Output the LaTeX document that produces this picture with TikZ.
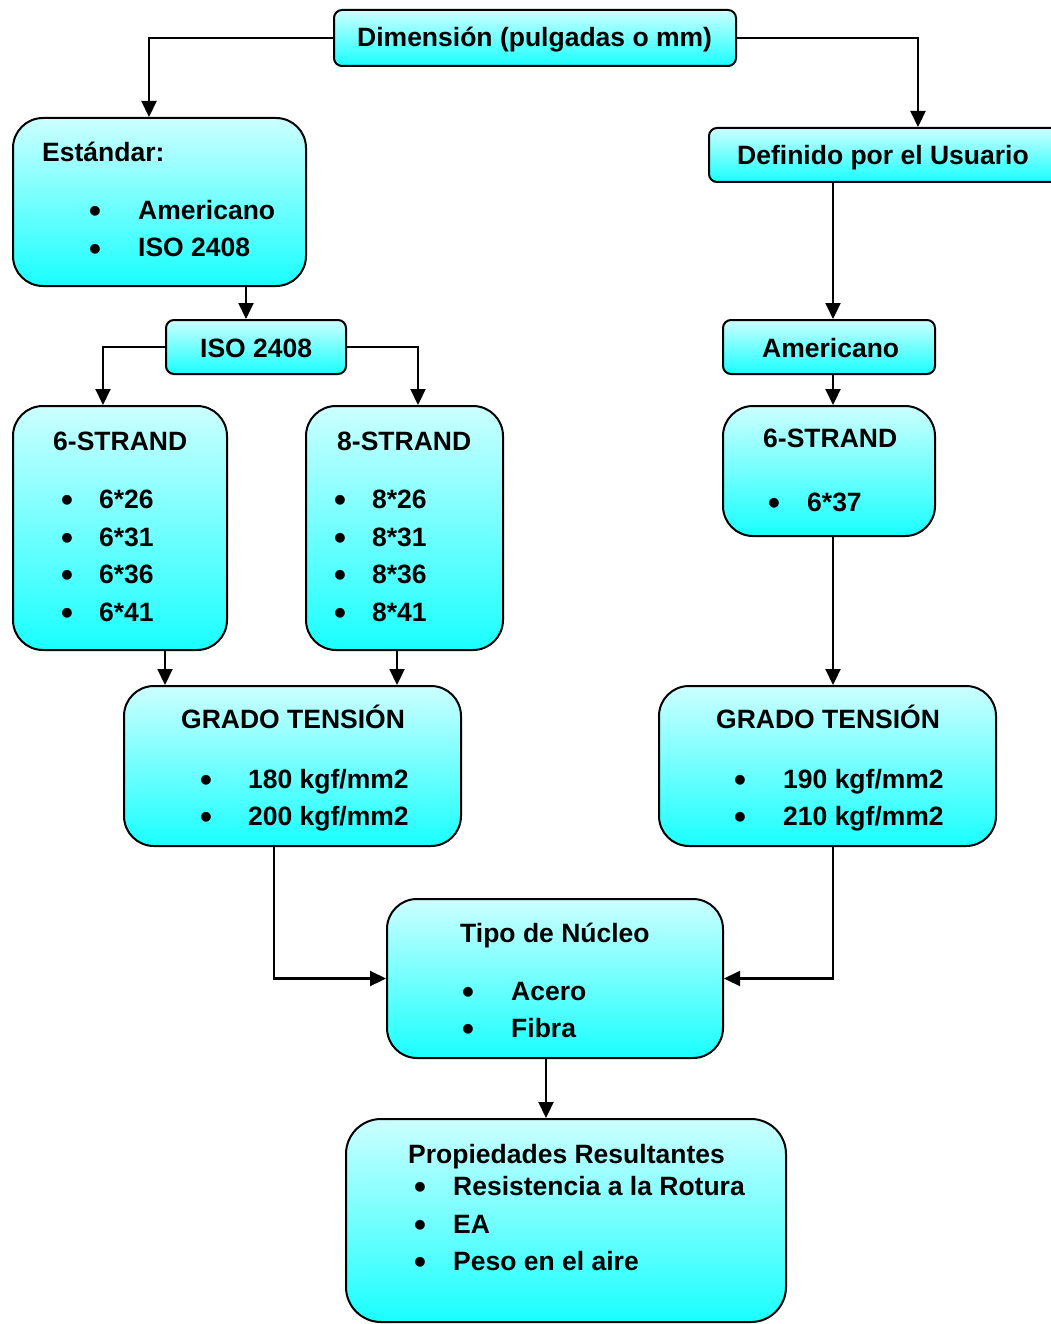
\documentclass[tikz,border=0pt]{standalone}
\usepackage{fontspec}
\setmainfont{Liberation Sans}
\usetikzlibrary{arrows.meta}
\definecolor{boxtop}{RGB}{204,255,255}
\definecolor{boxbot}{RGB}{25,255,255}
\tikzset{
  box/.style={draw=black, line width=2pt, top color=boxtop, bottom color=boxbot,
    inner sep=0pt, rounded corners=#1},
  box/.default=30pt,
  txt/.style={anchor=base west, inner sep=0pt, text=black,
    font=\bfseries\fontsize{26.5}{30}\selectfont},
  bul/.style={anchor=base, inner sep=0pt, text=black, yshift=-3pt,
    font=\bfseries\fontsize{34}{36}\selectfont},
  conn/.style={draw=black, line width=2.2pt, -{Triangle[length=16pt,width=15pt]}},
}
\begin{document}
\begin{tikzpicture}[x=1pt, y=-1pt]
\useasboundingbox (0,0) rectangle (1050,1324);

% boxes
\node[box=8pt, minimum width=402pt, minimum height=56pt] (dim) at (535,38) {};
\node[box, minimum width=293pt, minimum height=168pt] (est) at (159.5,202) {};
\node[box=8pt, minimum width=351pt, minimum height=54pt] (def) at (884.5,155) {};
\node[box=8pt, minimum width=180pt, minimum height=54pt] (iso) at (256,347) {};
\node[box=8pt, minimum width=212pt, minimum height=54pt] (ame) at (829,347) {};
\node[box, minimum width=214pt, minimum height=244pt] (s6l) at (120,528) {};
\node[box, minimum width=197pt, minimum height=244pt] (s8) at (404.5,528) {};
\node[box, minimum width=212pt, minimum height=130pt] (s6r) at (829,471) {};
\node[box, minimum width=337pt, minimum height=160pt] (gl) at (292.5,766) {};
\node[box, minimum width=337pt, minimum height=160pt] (gr) at (827.5,766) {};
\node[box, minimum width=336pt, minimum height=159pt] (tipo) at (555,978.5) {};
\node[box=35pt, minimum width=440pt, minimum height=203pt] (prop) at (566,1220.5) {};

% texts
\node[txt] (tdim) at (357,47) {Dimensión (pulgadas o mm)};

\node[txt] (test) at (42,162) {Estándar:};
\node[bul] (best1) at (95,220) {•};
\node[txt] (test1) at (138,220) {Americano};
\node[bul] (best2) at (95,257) {•};
\node[txt] (test2) at (138,257) {ISO 2408};

\node[txt] (tdef) at (737,165) {Definido por el Usuario};
\node[txt] (tiso) at (200,357) {ISO 2408};
\node[txt] (tame) at (762,357) {Americano};

\node[txt] (ts6l) at (53,450) {6-STRAND};
\foreach \v/\yy in {26/508,31/546,36/583,41/621}{
  \node[bul] (bs6l\v) at (67,\yy) {•};
  \node[txt] (ts6l\v) at (99,\yy) {6*\v};
}
\node[txt] (ts8) at (337,450) {8-STRAND};
\foreach \v/\yy in {26/508,31/546,36/583,41/621}{
  \node[bul] (bs8\v) at (340,\yy) {•};
  \node[txt] (ts8\v) at (372,\yy) {8*\v};
}
\node[txt] (ts6r) at (763,447) {6-STRAND};
\node[bul] (bs6r) at (774,511) {•};
\node[txt] (ts6r1) at (807,511) {6*37};

\node[txt] (tgl) at (181,728) {GRADO TENSIÓN};
\node[bul] (bgl1) at (206,788) {•};
\node[txt] (tgl1) at (248,788) {180 kgf/mm2};
\node[bul] (bgl2) at (206,825) {•};
\node[txt] (tgl2) at (248,825) {200 kgf/mm2};

\node[txt] (tgr) at (716,728) {GRADO TENSIÓN};
\node[bul] (bgr1) at (740,788) {•};
\node[txt] (tgr1) at (783,788) {190 kgf/mm2};
\node[bul] (bgr2) at (740,825) {•};
\node[txt] (tgr2) at (783,825) {210 kgf/mm2};

\node[txt] (ttipo) at (460,942) {Tipo de Núcleo};
\node[bul] (btipo1) at (468,1000) {•};
\node[txt] (ttipo1) at (511,1000) {Acero};
\node[bul] (btipo2) at (468,1037) {•};
\node[txt] (ttipo2) at (511,1037) {Fibra};

\node[txt] (tprop) at (408,1163) {Propiedades Resultantes};
\node[bul] (bprop1) at (420,1195) {•};
\node[txt] (tprop1) at (453,1195) {Resistencia a la Rotura};
\node[bul] (bprop2) at (420,1233) {•};
\node[txt] (tprop2) at (453,1233) {EA};
\node[bul] (bprop3) at (420,1270) {•};
\node[txt] (tprop3) at (453,1270) {Peso en el aire};

% connectors
\draw[conn] (dim.west) -| ([xshift=137pt]est.north west);
\draw[conn] (dim.east) -| ([xshift=210pt]def.north west);
\draw[conn] ([xshift=234pt]est.south west) -- ([xshift=81pt]iso.north west);
\draw[conn] (iso.west) -| ([xshift=91pt]s6l.north west);
\draw[conn] (iso.east) -| ([xshift=113pt]s8.north west);
\draw[conn] ([xshift=125pt]def.south west) -- ([xshift=111pt]ame.north west);
\draw[conn] ([xshift=111pt]ame.south west) -- ([xshift=111pt]s6r.north west);
\draw[conn] ([xshift=111pt]s6r.south west) -- ([xshift=175pt]gr.north west);
\draw[conn] ([xshift=153pt]s6l.south west) -- ([xshift=42pt]gl.north west);
\draw[conn] ([xshift=92pt]s8.south west) -- ([xshift=274pt]gl.north west);
\draw[conn] ([xshift=151pt]gl.south west) |- (tipo.west);
\draw[conn] ([xshift=175pt]gr.south west) |- (tipo.east);
\draw[conn] ([xshift=160pt]tipo.south west) -- ([xshift=201pt]prop.north west);
\end{tikzpicture}
\end{document}
